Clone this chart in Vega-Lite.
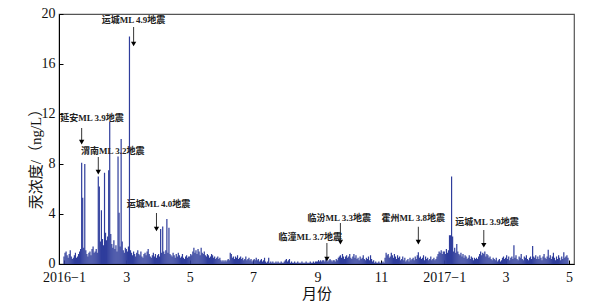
{
"$schema":"https://vega.github.io/schema/vega-lite/v6.json",
"width":515,"height":250,
"autosize":{"type":"none"},
"padding":{"left":59,"top":14,"right":35,"bottom":39},
"config":{"view":{"stroke":"#555","strokeWidth":1.2},"font":"Liberation Serif",
"axis":{"grid":false,"domainColor":"#000","tickColor":"#000","labelColor":"#111","titleColor":"#111","labelFont":"Liberation Serif","titleFont":"Liberation Serif, Noto Sans CJK SC","labelFontSize":14,"titleFontSize":15,"titleFontWeight":"normal","tickSize":-4,"labelPadding":8}},
"datasets":{
"series":[
{"t":"2016-01-01","v":0.6},{"t":"2016-01-02","v":0.9},{"t":"2016-01-03","v":1.0},{"t":"2016-01-04","v":0.7},{"t":"2016-01-05","v":0.5},{"t":"2016-01-06","v":0.8},{"t":"2016-01-07","v":1.1},{"t":"2016-01-08","v":0.6},{"t":"2016-01-09","v":0.4},{"t":"2016-01-10","v":0.5},{"t":"2016-01-11","v":0.7},{"t":"2016-01-12","v":0.9},{"t":"2016-01-13","v":0.5},{"t":"2016-01-14","v":0.6},{"t":"2016-01-15","v":0.8},{"t":"2016-01-16","v":1.0},{"t":"2016-01-17","v":1.2},{"t":"2016-01-18","v":8.1},{"t":"2016-01-19","v":5.3},{"t":"2016-01-20","v":1.3},{"t":"2016-01-21","v":8.0},{"t":"2016-01-22","v":1.1},{"t":"2016-01-23","v":0.8},{"t":"2016-01-24","v":0.6},{"t":"2016-01-25","v":0.9},{"t":"2016-01-26","v":1.0},{"t":"2016-01-27","v":0.7},{"t":"2016-01-28","v":1.2},{"t":"2016-01-29","v":1.4},{"t":"2016-01-30","v":0.9},{"t":"2016-01-31","v":1.0},
{"t":"2016-02-01","v":1.2},{"t":"2016-02-02","v":0.9},{"t":"2016-02-03","v":7.0},{"t":"2016-02-04","v":6.2},{"t":"2016-02-05","v":1.8},{"t":"2016-02-06","v":4.3},{"t":"2016-02-07","v":2.0},{"t":"2016-02-08","v":1.5},{"t":"2016-02-09","v":7.3},{"t":"2016-02-10","v":2.5},{"t":"2016-02-11","v":1.9},{"t":"2016-02-12","v":2.2},{"t":"2016-02-13","v":7.5},{"t":"2016-02-14","v":11.4},{"t":"2016-02-15","v":2.4},{"t":"2016-02-16","v":1.6},{"t":"2016-02-17","v":1.3},{"t":"2016-02-18","v":1.9},{"t":"2016-02-19","v":1.2},{"t":"2016-02-20","v":1.5},{"t":"2016-02-21","v":1.0},{"t":"2016-02-22","v":8.6},{"t":"2016-02-23","v":4.1},{"t":"2016-02-24","v":1.4},{"t":"2016-02-25","v":10.0},{"t":"2016-02-26","v":1.8},{"t":"2016-02-27","v":1.1},{"t":"2016-02-28","v":0.9},{"t":"2016-02-29","v":1.3},
{"t":"2016-03-01","v":1.2},{"t":"2016-03-02","v":1.0},{"t":"2016-03-03","v":1.4},{"t":"2016-03-04","v":18.2},{"t":"2016-03-05","v":1.1},{"t":"2016-03-06","v":0.9},{"t":"2016-03-07","v":0.7},{"t":"2016-03-08","v":1.0},{"t":"2016-03-09","v":0.8},{"t":"2016-03-10","v":0.6},{"t":"2016-03-11","v":0.9},{"t":"2016-03-12","v":1.1},{"t":"2016-03-13","v":0.8},{"t":"2016-03-14","v":0.7},{"t":"2016-03-15","v":1.0},{"t":"2016-03-16","v":0.6},{"t":"2016-03-17","v":0.5},{"t":"2016-03-18","v":0.8},{"t":"2016-03-19","v":0.9},{"t":"2016-03-20","v":0.7},{"t":"2016-03-21","v":1.0},{"t":"2016-03-22","v":1.2},{"t":"2016-03-23","v":0.8},{"t":"2016-03-24","v":0.6},{"t":"2016-03-25","v":0.5},{"t":"2016-03-26","v":0.7},{"t":"2016-03-27","v":0.9},{"t":"2016-03-28","v":0.6},{"t":"2016-03-29","v":0.8},{"t":"2016-03-30","v":0.5},{"t":"2016-03-31","v":0.7},
{"t":"2016-04-01","v":0.8},{"t":"2016-04-02","v":0.6},{"t":"2016-04-03","v":2.8},{"t":"2016-04-04","v":0.9},{"t":"2016-04-05","v":3.0},{"t":"2016-04-06","v":1.0},{"t":"2016-04-07","v":0.8},{"t":"2016-04-08","v":1.1},{"t":"2016-04-09","v":3.6},{"t":"2016-04-10","v":0.9},{"t":"2016-04-11","v":2.9},{"t":"2016-04-12","v":0.8},{"t":"2016-04-13","v":0.7},{"t":"2016-04-14","v":0.6},{"t":"2016-04-15","v":0.9},{"t":"2016-04-16","v":0.7},{"t":"2016-04-17","v":0.5},{"t":"2016-04-18","v":0.8},{"t":"2016-04-19","v":0.6},{"t":"2016-04-20","v":0.9},{"t":"2016-04-21","v":0.7},{"t":"2016-04-22","v":0.5},{"t":"2016-04-23","v":0.6},{"t":"2016-04-24","v":0.8},{"t":"2016-04-25","v":0.5},{"t":"2016-04-26","v":0.4},{"t":"2016-04-27","v":0.6},{"t":"2016-04-28","v":0.7},{"t":"2016-04-29","v":0.5},{"t":"2016-04-30","v":0.6},
{"t":"2016-05-01","v":0.6},{"t":"2016-05-02","v":0.8},{"t":"2016-05-03","v":0.7},{"t":"2016-05-04","v":1.0},{"t":"2016-05-05","v":1.3},{"t":"2016-05-06","v":0.9},{"t":"2016-05-07","v":1.1},{"t":"2016-05-08","v":0.8},{"t":"2016-05-09","v":1.2},{"t":"2016-05-10","v":1.0},{"t":"2016-05-11","v":0.7},{"t":"2016-05-12","v":1.3},{"t":"2016-05-13","v":0.9},{"t":"2016-05-14","v":0.8},{"t":"2016-05-15","v":1.0},{"t":"2016-05-16","v":0.7},{"t":"2016-05-17","v":0.6},{"t":"2016-05-18","v":0.8},{"t":"2016-05-19","v":0.7},{"t":"2016-05-20","v":0.5},{"t":"2016-05-21","v":0.6},{"t":"2016-05-22","v":0.8},{"t":"2016-05-23","v":0.7},{"t":"2016-05-24","v":0.5},{"t":"2016-05-25","v":0.6},{"t":"2016-05-26","v":0.4},{"t":"2016-05-27","v":0.5},{"t":"2016-05-28","v":0.6},{"t":"2016-05-29","v":0.4},{"t":"2016-05-30","v":0.5},{"t":"2016-05-31","v":0.3},
{"t":"2016-06-01","v":0.2},{"t":"2016-06-02","v":0.3},{"t":"2016-06-03","v":0.2},{"t":"2016-06-04","v":0.3},{"t":"2016-06-05","v":0.2},{"t":"2016-06-06","v":0.3},{"t":"2016-06-07","v":0.4},{"t":"2016-06-08","v":0.3},{"t":"2016-06-09","v":0.9},{"t":"2016-06-10","v":0.8},{"t":"2016-06-11","v":0.5},{"t":"2016-06-12","v":0.6},{"t":"2016-06-13","v":0.4},{"t":"2016-06-14","v":0.6},{"t":"2016-06-15","v":0.5},{"t":"2016-06-16","v":0.7},{"t":"2016-06-17","v":0.4},{"t":"2016-06-18","v":0.5},{"t":"2016-06-19","v":0.6},{"t":"2016-06-20","v":0.4},{"t":"2016-06-21","v":0.5},{"t":"2016-06-22","v":0.3},{"t":"2016-06-23","v":0.4},{"t":"2016-06-24","v":0.6},{"t":"2016-06-25","v":0.3},{"t":"2016-06-26","v":0.4},{"t":"2016-06-27","v":0.5},{"t":"2016-06-28","v":0.3},{"t":"2016-06-29","v":0.4},{"t":"2016-06-30","v":0.2},
{"t":"2016-07-01","v":0.3},{"t":"2016-07-02","v":0.4},{"t":"2016-07-03","v":0.3},{"t":"2016-07-04","v":0.5},{"t":"2016-07-05","v":0.3},{"t":"2016-07-06","v":0.4},{"t":"2016-07-07","v":0.2},{"t":"2016-07-08","v":0.3},{"t":"2016-07-09","v":0.4},{"t":"2016-07-10","v":0.2},{"t":"2016-07-11","v":0.3},{"t":"2016-07-12","v":0.5},{"t":"2016-07-13","v":0.2},{"t":"2016-07-14","v":0.1},{"t":"2016-07-15","v":0.2},{"t":"2016-07-16","v":0.5},{"t":"2016-07-17","v":0.1},{"t":"2016-07-18","v":0.2},{"t":"2016-07-19","v":0.1},{"t":"2016-07-20","v":0.2},{"t":"2016-07-21","v":0.1},{"t":"2016-07-22","v":0.1},{"t":"2016-07-23","v":0.2},{"t":"2016-07-24","v":0.1},{"t":"2016-07-25","v":0.2},{"t":"2016-07-26","v":0.1},{"t":"2016-07-27","v":0.1},{"t":"2016-07-28","v":0.2},{"t":"2016-07-29","v":0.1},{"t":"2016-07-30","v":0.1},{"t":"2016-07-31","v":0.2},
{"t":"2016-08-01","v":0.3},{"t":"2016-08-02","v":0.4},{"t":"2016-08-03","v":0.2},{"t":"2016-08-04","v":0.3},{"t":"2016-08-05","v":0.4},{"t":"2016-08-06","v":0.1},{"t":"2016-08-07","v":0.2},{"t":"2016-08-08","v":0.1},{"t":"2016-08-09","v":0.1},{"t":"2016-08-10","v":0.2},{"t":"2016-08-11","v":0.1},{"t":"2016-08-12","v":0.1},{"t":"2016-08-13","v":0.2},{"t":"2016-08-14","v":0.1},{"t":"2016-08-15","v":0.1},{"t":"2016-08-16","v":0.1},{"t":"2016-08-17","v":0.2},{"t":"2016-08-18","v":0.1},{"t":"2016-08-19","v":0.1},{"t":"2016-08-20","v":0.1},{"t":"2016-08-21","v":0.2},{"t":"2016-08-22","v":0.1},{"t":"2016-08-23","v":0.1},{"t":"2016-08-24","v":0.1},{"t":"2016-08-25","v":0.2},{"t":"2016-08-26","v":0.1},{"t":"2016-08-27","v":0.1},{"t":"2016-08-28","v":0.2},{"t":"2016-08-29","v":0.1},{"t":"2016-08-30","v":0.2},{"t":"2016-08-31","v":0.2},
{"t":"2016-09-01","v":0.2},{"t":"2016-09-02","v":0.3},{"t":"2016-09-03","v":0.2},{"t":"2016-09-04","v":0.3},{"t":"2016-09-05","v":0.2},{"t":"2016-09-06","v":0.3},{"t":"2016-09-07","v":0.3},{"t":"2016-09-08","v":0.2},{"t":"2016-09-09","v":0.4},{"t":"2016-09-10","v":0.3},{"t":"2016-09-11","v":0.2},{"t":"2016-09-12","v":0.3},{"t":"2016-09-13","v":0.4},{"t":"2016-09-14","v":0.3},{"t":"2016-09-15","v":0.2},{"t":"2016-09-16","v":0.3},{"t":"2016-09-17","v":0.3},{"t":"2016-09-18","v":0.2},{"t":"2016-09-19","v":0.4},{"t":"2016-09-20","v":0.3},{"t":"2016-09-21","v":0.5},{"t":"2016-09-22","v":0.6},{"t":"2016-09-23","v":0.7},{"t":"2016-09-24","v":0.5},{"t":"2016-09-25","v":0.8},{"t":"2016-09-26","v":0.6},{"t":"2016-09-27","v":0.4},{"t":"2016-09-28","v":0.6},{"t":"2016-09-29","v":0.7},{"t":"2016-09-30","v":0.5},
{"t":"2016-10-01","v":0.6},{"t":"2016-10-02","v":0.8},{"t":"2016-10-03","v":0.5},{"t":"2016-10-04","v":0.4},{"t":"2016-10-05","v":0.6},{"t":"2016-10-06","v":0.8},{"t":"2016-10-07","v":0.5},{"t":"2016-10-08","v":0.7},{"t":"2016-10-09","v":0.4},{"t":"2016-10-10","v":0.5},{"t":"2016-10-11","v":0.3},{"t":"2016-10-12","v":0.6},{"t":"2016-10-13","v":0.4},{"t":"2016-10-14","v":0.5},{"t":"2016-10-15","v":0.7},{"t":"2016-10-16","v":0.4},{"t":"2016-10-17","v":0.3},{"t":"2016-10-18","v":0.5},{"t":"2016-10-19","v":0.4},{"t":"2016-10-20","v":0.6},{"t":"2016-10-21","v":0.3},{"t":"2016-10-22","v":0.7},{"t":"2016-10-23","v":0.4},{"t":"2016-10-24","v":0.2},{"t":"2016-10-25","v":0.3},{"t":"2016-10-26","v":0.1},{"t":"2016-10-27","v":0.2},{"t":"2016-10-28","v":0.1},{"t":"2016-10-29","v":0.1},{"t":"2016-10-30","v":0.2},{"t":"2016-10-31","v":0.1},
{"t":"2016-11-01","v":0.1},{"t":"2016-11-02","v":0.1},{"t":"2016-11-03","v":0.2},{"t":"2016-11-04","v":0.1},{"t":"2016-11-05","v":0.5},{"t":"2016-11-06","v":0.9},{"t":"2016-11-07","v":0.7},{"t":"2016-11-08","v":0.8},{"t":"2016-11-09","v":0.5},{"t":"2016-11-10","v":0.6},{"t":"2016-11-11","v":0.9},{"t":"2016-11-12","v":0.7},{"t":"2016-11-13","v":0.5},{"t":"2016-11-14","v":0.8},{"t":"2016-11-15","v":0.6},{"t":"2016-11-16","v":0.4},{"t":"2016-11-17","v":0.7},{"t":"2016-11-18","v":0.5},{"t":"2016-11-19","v":0.6},{"t":"2016-11-20","v":0.3},{"t":"2016-11-21","v":0.4},{"t":"2016-11-22","v":0.6},{"t":"2016-11-23","v":0.3},{"t":"2016-11-24","v":0.5},{"t":"2016-11-25","v":0.2},{"t":"2016-11-26","v":0.3},{"t":"2016-11-27","v":0.4},{"t":"2016-11-28","v":0.2},{"t":"2016-11-29","v":0.5},{"t":"2016-11-30","v":0.3},
{"t":"2016-12-01","v":0.4},{"t":"2016-12-02","v":0.5},{"t":"2016-12-03","v":0.3},{"t":"2016-12-04","v":0.6},{"t":"2016-12-05","v":0.4},{"t":"2016-12-06","v":0.7},{"t":"2016-12-07","v":0.95},{"t":"2016-12-08","v":0.5},{"t":"2016-12-09","v":0.6},{"t":"2016-12-10","v":0.4},{"t":"2016-12-11","v":0.5},{"t":"2016-12-12","v":0.7},{"t":"2016-12-13","v":0.3},{"t":"2016-12-14","v":0.6},{"t":"2016-12-15","v":0.4},{"t":"2016-12-16","v":0.5},{"t":"2016-12-17","v":0.3},{"t":"2016-12-18","v":0.4},{"t":"2016-12-19","v":0.6},{"t":"2016-12-20","v":0.3},{"t":"2016-12-21","v":0.4},{"t":"2016-12-22","v":0.5},{"t":"2016-12-23","v":0.3},{"t":"2016-12-24","v":0.4},{"t":"2016-12-25","v":0.6},{"t":"2016-12-26","v":0.8},{"t":"2016-12-27","v":1.0},{"t":"2016-12-28","v":0.9},{"t":"2016-12-29","v":1.1},{"t":"2016-12-30","v":0.8},{"t":"2016-12-31","v":1.0},
{"t":"2017-01-01","v":1.0},{"t":"2017-01-02","v":0.8},{"t":"2017-01-03","v":1.2},{"t":"2017-01-04","v":0.9},{"t":"2017-01-05","v":1.1},{"t":"2017-01-06","v":2.3},{"t":"2017-01-07","v":2.3},{"t":"2017-01-08","v":7.0},{"t":"2017-01-09","v":2.2},{"t":"2017-01-10","v":1.0},{"t":"2017-01-11","v":1.3},{"t":"2017-01-12","v":0.9},{"t":"2017-01-13","v":1.6},{"t":"2017-01-14","v":1.0},{"t":"2017-01-15","v":0.8},{"t":"2017-01-16","v":0.7},{"t":"2017-01-17","v":0.9},{"t":"2017-01-18","v":0.6},{"t":"2017-01-19","v":0.8},{"t":"2017-01-20","v":0.5},{"t":"2017-01-21","v":0.7},{"t":"2017-01-22","v":0.6},{"t":"2017-01-23","v":0.4},{"t":"2017-01-24","v":0.5},{"t":"2017-01-25","v":0.7},{"t":"2017-01-26","v":0.4},{"t":"2017-01-27","v":0.6},{"t":"2017-01-28","v":0.5},{"t":"2017-01-29","v":0.3},{"t":"2017-01-30","v":0.5},{"t":"2017-01-31","v":0.4},
{"t":"2017-02-01","v":0.5},{"t":"2017-02-02","v":0.4},{"t":"2017-02-03","v":0.6},{"t":"2017-02-04","v":0.8},{"t":"2017-02-05","v":1.0},{"t":"2017-02-06","v":0.7},{"t":"2017-02-07","v":0.9},{"t":"2017-02-08","v":0.8},{"t":"2017-02-09","v":1.0},{"t":"2017-02-10","v":0.6},{"t":"2017-02-11","v":0.8},{"t":"2017-02-12","v":0.7},{"t":"2017-02-13","v":0.5},{"t":"2017-02-14","v":0.6},{"t":"2017-02-15","v":0.4},{"t":"2017-02-16","v":0.3},{"t":"2017-02-17","v":0.5},{"t":"2017-02-18","v":0.4},{"t":"2017-02-19","v":0.3},{"t":"2017-02-20","v":0.5},{"t":"2017-02-21","v":0.2},{"t":"2017-02-22","v":0.3},{"t":"2017-02-23","v":0.4},{"t":"2017-02-24","v":0.2},{"t":"2017-02-25","v":0.3},{"t":"2017-02-26","v":0.5},{"t":"2017-02-27","v":0.6},{"t":"2017-02-28","v":0.4},
{"t":"2017-03-01","v":0.5},{"t":"2017-03-02","v":0.7},{"t":"2017-03-03","v":0.4},{"t":"2017-03-04","v":0.6},{"t":"2017-03-05","v":0.3},{"t":"2017-03-06","v":0.5},{"t":"2017-03-07","v":0.6},{"t":"2017-03-08","v":0.4},{"t":"2017-03-09","v":1.5},{"t":"2017-03-10","v":0.5},{"t":"2017-03-11","v":0.7},{"t":"2017-03-12","v":0.4},{"t":"2017-03-13","v":0.3},{"t":"2017-03-14","v":0.6},{"t":"2017-03-15","v":0.5},{"t":"2017-03-16","v":0.8},{"t":"2017-03-17","v":0.4},{"t":"2017-03-18","v":0.3},{"t":"2017-03-19","v":0.6},{"t":"2017-03-20","v":0.5},{"t":"2017-03-21","v":0.7},{"t":"2017-03-22","v":0.4},{"t":"2017-03-23","v":0.3},{"t":"2017-03-24","v":0.5},{"t":"2017-03-25","v":0.6},{"t":"2017-03-26","v":0.4},{"t":"2017-03-27","v":1.45},{"t":"2017-03-28","v":0.6},{"t":"2017-03-29","v":0.5},{"t":"2017-03-30","v":0.7},{"t":"2017-03-31","v":0.4},
{"t":"2017-04-01","v":0.6},{"t":"2017-04-02","v":0.4},{"t":"2017-04-03","v":0.7},{"t":"2017-04-04","v":0.5},{"t":"2017-04-05","v":0.3},{"t":"2017-04-06","v":0.6},{"t":"2017-04-07","v":0.8},{"t":"2017-04-08","v":0.5},{"t":"2017-04-09","v":0.4},{"t":"2017-04-10","v":0.6},{"t":"2017-04-11","v":1.15},{"t":"2017-04-12","v":0.5},{"t":"2017-04-13","v":0.7},{"t":"2017-04-14","v":0.4},{"t":"2017-04-15","v":0.6},{"t":"2017-04-16","v":0.9},{"t":"2017-04-17","v":0.5},{"t":"2017-04-18","v":0.3},{"t":"2017-04-19","v":0.6},{"t":"2017-04-20","v":0.4},{"t":"2017-04-21","v":0.7},{"t":"2017-04-22","v":0.5},{"t":"2017-04-23","v":0.3},{"t":"2017-04-24","v":0.6},{"t":"2017-04-25","v":0.4},{"t":"2017-04-26","v":0.95},{"t":"2017-04-27","v":0.5},{"t":"2017-04-28","v":0.6},{"t":"2017-04-29","v":0.7},{"t":"2017-04-30","v":0.5}
],
"notes":[
{"label":"运城ML 4.9地震","tx":"2016-03-08","ty":19.5,"ax":"2016-03-08","a1":18.96,"a2":17.6},
{"label":"延安ML 3.9地震","tx":"2016-01-28","ty":11.68,"ax":"2016-01-18","a1":10.88,"a2":9.75},
{"label":"渭南ML 3.2地震","tx":"2016-02-17","ty":9.06,"ax":"2016-02-03","a1":8.56,"a2":7.35},
{"label":"运城ML 4.0地震","tx":"2016-04-01","ty":4.8,"ax":"2016-03-30","a1":4.08,"a2":2.8},
{"label":"临潼ML 3.7地震","tx":"2016-08-25","ty":2.18,"ax":"2016-09-10","a1":1.68,"a2":0.4},
{"label":"临汾ML 3.3地震","tx":"2016-09-22","ty":3.7,"ax":"2016-09-23","a1":3.28,"a2":1.75},
{"label":"霍州ML 3.8地震","tx":"2016-12-02","ty":3.7,"ax":"2016-12-07","a1":2.98,"a2":1.75},
{"label":"运城ML 3.9地震","tx":"2017-02-11","ty":3.38,"ax":"2017-02-08","a1":2.72,"a2":1.5}
]},
"layer":[
{"data":{"name":"series"},
"mark":{"type":"bar","width":1.2,"color":"#2f3d9c","clip":true},
"encoding":{
"x":{"field":"t","type":"temporal","title":"月份",
"scale":{"type":"utc","domain":[{"year":2016,"month":1,"date":1,"utc":true},{"year":2017,"month":5,"date":1,"utc":true}]},
"axis":{"tickCount":{"interval":"month","step":2},"labelFlush":false,"labelOverlap":false,"titlePadding":2,"labelPadding":10,
"labelExpr":"utcmonth(datum.value)==0 ? utcyear(datum.value)+'−1' : ''+(utcmonth(datum.value)+1)"}},
"y":{"field":"v","type":"quantitative","title":"汞浓度/（ng/L）",
"scale":{"domain":[0,20],"nice":false},
"axis":{"values":[0,4,8,12,16,20],"titlePadding":-2,"titleY":141,"labelOffset":-1}}}},
{"data":{"name":"notes"},
"mark":{"type":"rule","color":"#000","strokeWidth":0.8},
"encoding":{"x":{"field":"ax","type":"temporal"},"y":{"field":"a1","type":"quantitative"},"y2":{"field":"a2"}}},
{"data":{"name":"notes"},
"mark":{"type":"point","shape":"triangle-down","filled":true,"color":"#000","size":28,"opacity":1},
"encoding":{"x":{"field":"ax","type":"temporal"},"y":{"field":"a2","type":"quantitative"}}},
{"data":{"name":"notes"},
"mark":{"type":"text","fontSize":9,"fontWeight":"bold","font":"Liberation Serif, Noto Sans CJK SC","color":"#222"},
"encoding":{"x":{"field":"tx","type":"temporal"},"y":{"field":"ty","type":"quantitative"},"text":{"field":"label"}}}
]
}
